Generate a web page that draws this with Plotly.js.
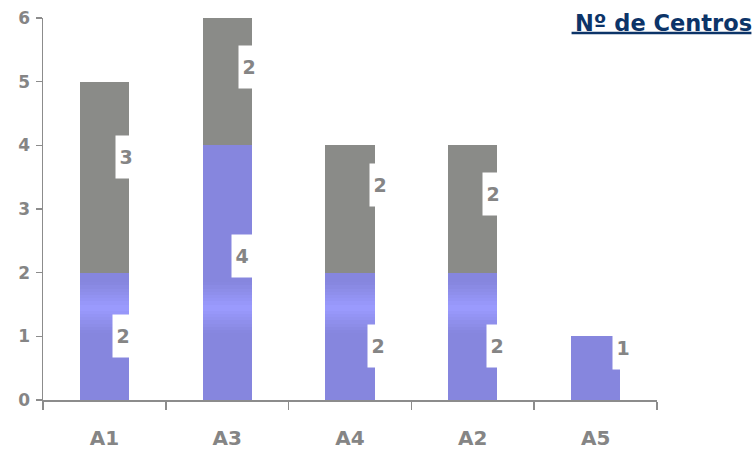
<!DOCTYPE html>
<html>
<head>
<meta charset="utf-8">
<script src="https://cdn.plot.ly/plotly-3.0.1.min.js"></script>
<style>html,body{margin:0;padding:0;background:#fff;}#chart{width:756px;height:449px;}</style>
</head>
<body>
<div id="chart"></div>
<script>
// ---- data ----
const categories = ['A1', 'A3', 'A4', 'A2', 'A5'];
const blueValues = [2, 4, 2, 2, 1];
const grayValues = [3, 2, 2, 2, 0];
const yTickVals = [0, 1, 2, 3, 4, 5, 6];
const titleText = 'Nº de Centros';

// ---- label placement (pixel nudges, as dragged in the source) ----
const blueLabelShift = [[19, 0], [14.5, -17], [28, 10], [24.5, 10], [27.5, -20]];
const grayLabelShift = [[21.5, -20], [21.5, -15], [29.5, -24], [20, -15], [0, 0]];

// ---- styles ----
const DARK = [134, 134, 222];
const LIGHT = [155, 155, 255];
const GRAY = '#8A8B88';
const AXIS = '#8C8C8C';
const TEXT = '#858585';
const NAVY = '#0C3468';
const FONT = 'DejaVu Sans, sans-serif';

// gradient band for blue series (in data units on the value axis)
const bandLo = 1.05, bandPeak = 1.45, bandHi = 1.85, step = 0.05;

function mix(t) {
  const c = DARK.map((d, k) => Math.round(d + (LIGHT[k] - d) * t));
  return 'rgb(' + c.join(',') + ')';
}

const traces = [];
function blueSlice(lo, hi, color) {
  traces.push({
    type: 'bar', x: categories,
    y: blueValues.map(v => Math.max(0, Math.min(v, hi) - lo)),
    marker: { color: color, line: { width: 0 } },
    hoverinfo: 'skip', showlegend: false
  });
}
blueSlice(0, bandLo, mix(0));
const nSlices = Math.round((bandHi - bandLo) / step);
for (let s = 0; s < nSlices; s++) {
  const lo = bandLo + s * step, hi = lo + step;
  const mid = (lo + hi) / 2;
  const half = mid < bandPeak ? (bandPeak - bandLo) : (bandHi - bandPeak);
  const t = Math.max(0, 1 - Math.abs(mid - bandPeak) / half);
  blueSlice(lo, hi, mix(t));
}
blueSlice(bandHi, 1e9, mix(0));

traces.push({
  type: 'bar', x: categories, y: grayValues,
  marker: { color: GRAY, line: { width: 0 } },
  hoverinfo: 'skip', showlegend: false
});

const annotations = [];
function label(i, yMid, val, shift) {
  annotations.push({
    x: categories[i], y: yMid, xref: 'x', yref: 'y',
    text: '<b>' + val + '</b>', showarrow: false,
    xanchor: 'center', yanchor: 'middle',
    xshift: shift[0], yshift: -shift[1],
    width: 20, height: 42, borderpad: 0,
    bgcolor: '#ffffff',
    font: { family: FONT, size: 19, color: TEXT }
  });
}
categories.forEach((c, i) => {
  if (blueValues[i] > 0) label(i, blueValues[i] / 2, blueValues[i], blueLabelShift[i]);
  if (grayValues[i] > 0) label(i, blueValues[i] + grayValues[i] / 2, grayValues[i], grayLabelShift[i]);
});

// title
annotations.push({
  xref: 'paper', yref: 'paper',
  x: (755 - 43) / 614.5, y: (400.5 - 8) / 382.5,
  xanchor: 'right', yanchor: 'top',
  text: '<b>' + titleText + '</b>', showarrow: false,
  font: { family: FONT, size: 22.5, color: NAVY }
});

const layout = {
  width: 756, height: 449,
  margin: { l: 43, r: 98.5, t: 18, b: 48.5, pad: 0 },
  paper_bgcolor: '#ffffff', plot_bgcolor: '#ffffff',
  barmode: 'stack', bargap: 0.6,
  showlegend: false,
  xaxis: {
    type: 'category', range: [-0.5, categories.length - 0.5],
    showline: true, linecolor: AXIS, linewidth: 1.5,
    ticks: 'outside', tickson: 'boundaries', ticklen: 8, tickwidth: 1.5, tickcolor: AXIS,
    showgrid: false, zeroline: false,
    tickfont: { family: FONT, size: 20, color: TEXT, weight: 'bold' },
    ticklabelstandoff: 19,
    fixedrange: true
  },
  yaxis: {
    range: [0, 6], tickvals: yTickVals,
    showline: true, linecolor: AXIS, linewidth: 1.5,
    ticks: 'outside', ticklen: 6, tickwidth: 1.5, tickcolor: AXIS,
    showgrid: false, zeroline: false,
    tickfont: { family: FONT, size: 17, color: TEXT, weight: 'bold' },
    ticklabelstandoff: 2,
    fixedrange: true
  },
  shapes: [{
    type: 'line', xref: 'paper', yref: 'paper',
    x0: (572 - 43) / 614.5, x1: (752 - 43) / 614.5,
    y0: (400.5 - 33) / 382.5, y1: (400.5 - 33) / 382.5,
    line: { color: NAVY, width: 2.5 }
  }],
  annotations: annotations
};

Plotly.newPlot('chart', traces, layout, { displayModeBar: false, staticPlot: true });
</script>
</body>
</html>
